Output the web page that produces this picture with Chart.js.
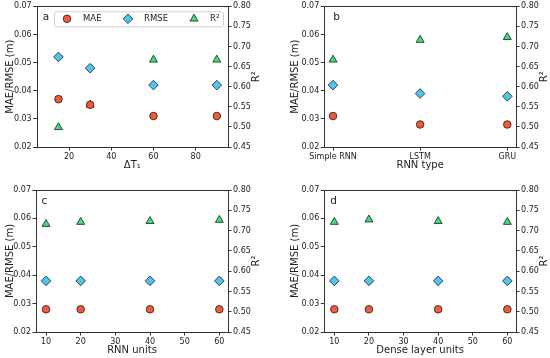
<!DOCTYPE html>
<html>
<head>
<meta charset="utf-8">
<script src="https://cdn.jsdelivr.net/npm/chart.js@4.4.1/dist/chart.umd.min.js"></script>
<style>
  body { margin: 0; background: #fff; }
  #wrap { position: relative; width: 550px; height: 358px; }
  canvas { position: absolute; }
</style>
</head>
<body>
<div id="wrap">
  <canvas id="chartA" width="275" height="179" style="left:0;top:0"></canvas>
  <canvas id="chartB" width="275" height="179" style="left:275px;top:0"></canvas>
  <canvas id="chartC" width="275" height="179" style="left:0;top:179px"></canvas>
  <canvas id="chartD" width="275" height="179" style="left:275px;top:179px"></canvas>
</div>
<script>
// panel a: time step
const dtValues = [15, 30, 60, 90];
const maeDt = [0.037, 0.035, 0.031, 0.031];
const rmseDt = [0.052, 0.048, 0.042, 0.042];
const r2Dt = [0.499, 0.555, 0.667, 0.667];
const dtTicks = [20, 40, 60, 80];

// panel b: rnn type
const rnnTypes = ['Simple RNN', 'LSTM', 'GRU'];
const maeType = [0.031, 0.028, 0.028];
const rmseType = [0.042, 0.039, 0.038];
const r2Type = [0.667, 0.716, 0.723];

// panel c: rnn units
const unitValues = [10, 20, 40, 60];
const maeUnits = [0.028, 0.028, 0.028, 0.028];
const rmseUnits = [0.038, 0.038, 0.038, 0.038];
const r2Units = [0.716, 0.721, 0.723, 0.726];
const unitTicks = [10, 20, 30, 40, 50, 60];

// panel d: dense layer units
const denseValues = [10, 20, 40, 60];
const maeDense = [0.028, 0.028, 0.028, 0.028];
const rmseDense = [0.038, 0.038, 0.038, 0.038];
const r2Dense = [0.721, 0.727, 0.723, 0.721];

const errTicks = [0.02, 0.03, 0.04, 0.05, 0.06, 0.07];
const r2Ticks = [0.45, 0.50, 0.55, 0.60, 0.65, 0.70, 0.75, 0.80];

const maeColor = '#f4593b';
const rmseColor = '#4cc6ec';
const r2Color = '#3ce07c';
const edge = '#1a1a1a';
const txt = '#222';
const FONT = 'DejaVu Sans';

const decor = {
  id: 'decor',
  afterDraw(chart, args, o) {
    const ctx = chart.ctx;
    const a = chart.chartArea;
    ctx.save();
    // frame
    ctx.strokeStyle = '#333';
    ctx.lineWidth = 1;
    ctx.strokeRect(Math.round(a.left) + 0.5, Math.round(a.top) + 0.5,
      Math.round(a.right) - Math.round(a.left), Math.round(a.bottom) - Math.round(a.top));
    // panel letter
    ctx.fillStyle = txt;
    ctx.font = '10.5px "' + FONT + '"';
    ctx.textAlign = 'left';
    ctx.textBaseline = 'middle';
    ctx.fillText(o.letter, a.left + o.letterDx, a.top + 11);
    // right axis title
    ctx.font = '10px "' + FONT + '"';
    ctx.translate(a.right + 28, (a.top + a.bottom) / 2);
    ctx.rotate(-Math.PI / 2);
    ctx.textAlign = 'center';
    ctx.fillText('R\u00b2', 0, 0);
    ctx.restore();

    if (o.legend) {
      ctx.save();
      const y = a.top + 12.5;
      const bx = a.left + 17.3;
      ctx.fillStyle = 'rgba(255,255,255,0.85)';
      ctx.strokeStyle = '#d0d0d0';
      ctx.lineWidth = 1;
      ctx.beginPath();
      ctx.roundRect(bx + 0.5, a.top + 5.5, 169, 15, 2);
      ctx.fill();
      ctx.stroke();
      const items = chart.data.datasets;
      const offs = [30.3, 91.3, 157.3];
      ctx.font = '8.5px "' + FONT + '"';
      ctx.textBaseline = 'middle';
      ctx.textAlign = 'left';
      items.forEach((ds, i) => {
        ctx.fillStyle = ds.backgroundColor;
        ctx.strokeStyle = ds.borderColor;
        ctx.lineWidth = ds.borderWidth;
        Chart.helpers.drawPoint(ctx, {
          pointStyle: ds.pointStyle, radius: ds.pointRadius,
          borderWidth: ds.borderWidth, rotation: 0
        }, a.left + offs[i], y);
        ctx.fillStyle = txt;
        ctx.fillText(ds.label, a.left + offs[i] + 16, y);
      });
      ctx.restore();
    }
  }
};

function pts(xs, ys) {
  return xs.map((v, i) => ({ x: v, y: ys[i] }));
}

function makePanel(id, p) {
  const tickFont = { family: FONT, size: 8 };
  const titleFont = { family: FONT, size: 10 };
  const gridOpts = { display: true, drawOnChartArea: false, drawTicks: true, tickLength: 3.5, color: '#333', lineWidth: 1 };
  return new Chart(document.getElementById(id), {
    type: 'scatter',
    data: {
      datasets: [
        { label: 'MAE', data: pts(p.x, p.mae), yAxisID: 'y', pointStyle: 'circle', pointRadius: 3.8,
          backgroundColor: maeColor, borderColor: edge, borderWidth: 0.8 },
        { label: 'RMSE', data: pts(p.x, p.rmse), yAxisID: 'y', pointStyle: 'rectRot', pointRadius: 4.8,
          backgroundColor: rmseColor, borderColor: edge, borderWidth: 0.8 },
        { label: 'R\u00b2', data: pts(p.x, p.r2), yAxisID: 'y2', pointStyle: 'triangle', pointRadius: 4.6,
          backgroundColor: r2Color, borderColor: edge, borderWidth: 0.8 }
      ]
    },
    options: {
      responsive: false,
      animation: false,
      layout: { padding: { top: p.top, right: 0, bottom: 0, left: 0 } },
      plugins: {
        legend: { display: false },
        tooltip: { enabled: false },
        decor: { letter: p.letter, letterDx: p.letterDx, legend: p.legend }
      },
      scales: {
        x: {
          type: 'linear', min: p.xMin, max: p.xMax,
          afterBuildTicks: s => { s.ticks = p.xTicks.map(v => ({ value: v })); },
          afterFit: s => { s.height = p.xAxisH; },
          ticks: { font: tickFont, color: txt, padding: 1.5, maxRotation: 0, autoSkip: false,
            callback: p.xNames ? (v => p.xNames[v]) : (v => String(v)) },
          grid: gridOpts,
          border: { display: false },
          title: { display: true, text: p.xTitle, font: titleFont, color: txt, padding: { top: 0, bottom: p.xTitlePad } }
        },
        y: {
          position: 'left', min: 0.02, max: 0.07,
          afterBuildTicks: s => { s.ticks = errTicks.map(v => ({ value: v })); },
          afterFit: s => { s.width = p.leftW; },
          ticks: { font: tickFont, color: txt, padding: 1.5, callback: v => v.toFixed(2) },
          grid: gridOpts,
          border: { display: false },
          title: { display: true, text: 'MAE/RMSE (m)', font: titleFont, color: txt, padding: { top: p.yTitlePad, bottom: 0 } }
        },
        y2: {
          position: 'right', min: 0.45, max: 0.80,
          afterBuildTicks: s => { s.ticks = r2Ticks.map(v => ({ value: v })); },
          afterFit: s => { s.width = p.rightW; },
          ticks: { font: tickFont, color: txt, padding: 1.5, callback: v => v.toFixed(2) },
          grid: gridOpts,
          border: { display: false }
        }
      }
    },
    plugins: [decor]
  });
}

makePanel('chartA', {
  x: dtValues, mae: maeDt, rmse: rmseDt, r2: r2Dt,
  xMin: 4.7, xMax: 95.3, xTicks: dtTicks, xTitle: '\u0394T\u2081',
  top: 5, xAxisH: 32, xTitlePad: 7.5, leftW: 36.7, rightW: 47, yTitlePad: 4,
  letter: 'a', letterDx: 6, legend: true
});
makePanel('chartB', {
  x: [0, 1, 2], mae: maeType, rmse: rmseType, r2: r2Type,
  xMin: -0.1, xMax: 2.1, xTicks: [0, 1, 2], xNames: rnnTypes, xTitle: 'RNN type',
  top: 5, xAxisH: 32, xTitlePad: 7.5, leftW: 49.3, rightW: 34, yTitlePad: 14,
  letter: 'b', letterDx: 9, legend: false
});
makePanel('chartC', {
  x: unitValues, mae: maeUnits, rmse: rmseUnits, r2: r2Units,
  xMin: 7.1, xMax: 62.5, xTicks: unitTicks, xTitle: 'RNN units',
  top: 11, xAxisH: 26, xTitlePad: 1.7, leftW: 36, rightW: 47, yTitlePad: 4,
  letter: 'c', letterDx: 5.5, legend: false
});
makePanel('chartD', {
  x: denseValues, mae: maeDense, rmse: rmseDense, r2: r2Dense,
  xMin: 7.1, xMax: 62.5, xTicks: unitTicks, xTitle: 'Dense layer units',
  top: 11, xAxisH: 26, xTitlePad: 1.7, leftW: 49.3, rightW: 34, yTitlePad: 14,
  letter: 'd', letterDx: 6, legend: false
});
</script>
</body>
</html>
